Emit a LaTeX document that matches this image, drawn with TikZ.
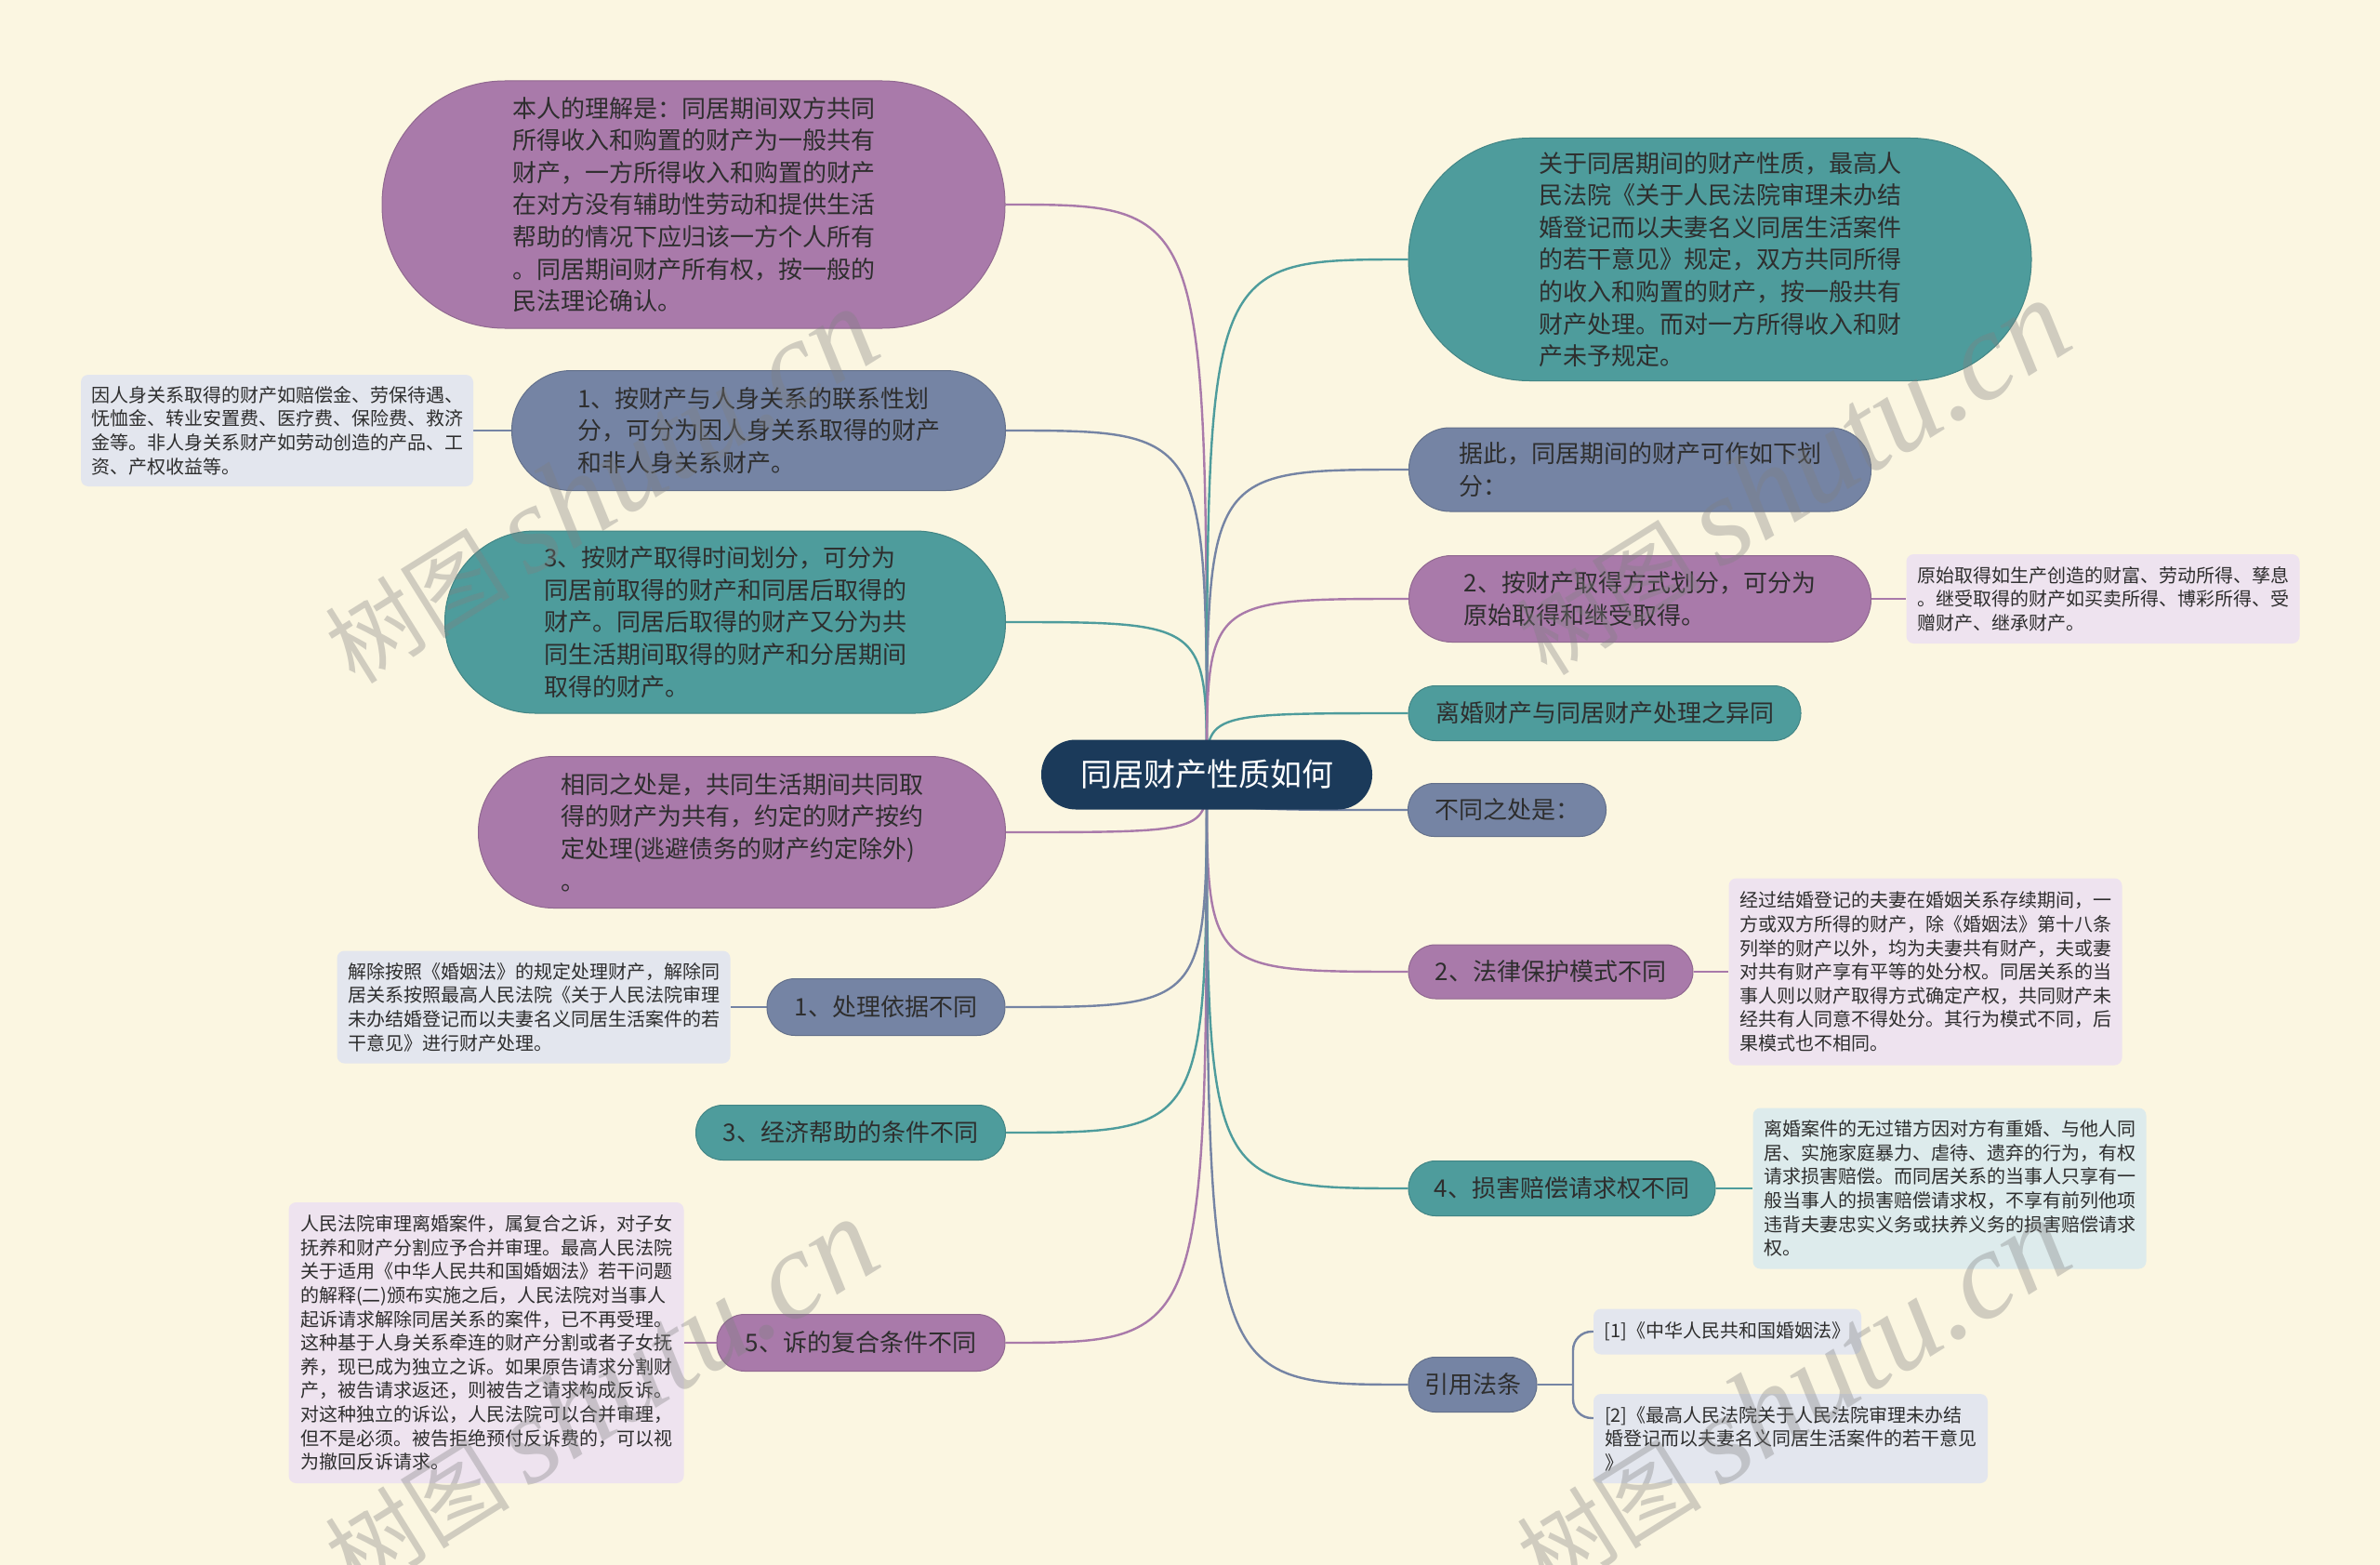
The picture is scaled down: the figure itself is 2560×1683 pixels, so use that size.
\documentclass[tikz,border=0pt]{standalone}
\usepackage{fontspec}
\setmainfont{Noto Sans CJK SC}
\newfontfamily\wmlatin{Liberation Serif}
\usepackage{tikz}
\usetikzlibrary{backgrounds}

\definecolor{pagebg}{HTML}{FBF6E1}
\definecolor{rootfill}{HTML}{1B3A5A}
\definecolor{purplefill}{HTML}{A97AAA}
\definecolor{slatefill}{HTML}{7584A4}
\definecolor{tealfill}{HTML}{4E9C9C}
\definecolor{notegrey}{HTML}{E3E6EE}
\definecolor{notepurple}{HTML}{EEE3EF}
\definecolor{noteteal}{HTML}{DDEBEC}
\definecolor{textdark}{HTML}{2E2E2E}

\newcommand\setfs[2]{\fontsize{#1}{#2}\selectfont}

\tikzset{
  topic/.style={inner sep=0pt, align=left, text=textdark, font=\setfs{26}{34.6}, line width=1pt},
  purpletopic/.style={topic, fill=purplefill, draw=purplefill!85!black},
  slatetopic/.style={topic, fill=slatefill, draw=slatefill!85!black},
  tealtopic/.style={topic, fill=tealfill, draw=tealfill!85!black},
  note/.style={inner sep=0pt, align=left, text=textdark, font=\setfs{20}{25.6}, rounded corners=8pt},
  rootnode/.style={inner sep=0pt, fill=rootfill, text=white, font=\setfs{34}{40},
    minimum width=356pt, minimum height=75pt, rounded corners=37pt},
  link/.style={line width=2.4pt},
  watermark/.style={text=gray, text opacity=0.35, inner sep=0pt}
}

\begin{document}
\begin{tikzpicture}[x=1pt,y=-1pt]
        \useasboundingbox (0,0) rectangle (2560,1683);
        % centre
        \node[rootnode] (root) at (1298,833) {同居财产性质如何};
        % left side
        \node[purpletopic, minimum width=670pt, minimum height=266pt, rounded corners=132pt] (understand) at (746,220)
          {本人的理解是：同居期间双方共同\\所得收入和购置的财产为一般共有\\财产，一方所得收入和购置的财产\\在对方没有辅助性劳动和提供生活\\帮助的情况下应归该一方个人所有\\。同居期间财产所有权，按一般的\\民法理论确认。};
        \node[slatetopic, minimum width=531pt, minimum height=129pt, rounded corners=64pt] (byrelation) at (816,463)
          {1、按财产与人身关系的联系性划\\分，可分为因人身关系取得的财产\\和非人身关系财产。};
        \node[note, fill=notegrey, minimum width=422pt, minimum height=120pt] (byrelationnote) at (298,463)
          {因人身关系取得的财产如赔偿金、劳保待遇、\\怃恤金、转业安置费、医疗费、保险费、救济\\金等。非人身关系财产如劳动创造的产品、工\\资、产权收益等。};
        \node[tealtopic, minimum width=603pt, minimum height=196pt, rounded corners=97pt] (bytime) at (780,669)
          {3、按财产取得时间划分，可分为\\同居前取得的财产和同居后取得的\\财产。同居后取得的财产又分为共\\同生活期间取得的财产和分居期间\\取得的财产。};
        \node[purpletopic, minimum width=567pt, minimum height=163pt, rounded corners=81pt] (same) at (798,895)
          {相同之处是，共同生活期间共同取\\得的财产为共有，约定的财产按约\\定处理(逃避债务的财产约定除外)\\。};
        \node[slatetopic, minimum width=256pt, minimum height=61pt, rounded corners=30pt] (basis) at (953,1083)
          {1、处理依据不同};
        \node[note, fill=notegrey, minimum width=423pt, minimum height=121pt] (basisnote) at (574,1083)
          {解除按照《婚姻法》的规定处理财产，解除同\\居关系按照最高人民法院《关于人民法院审理\\未办结婚登记而以夫妻名义同居生活案件的若\\干意见》进行财产处理。};
        \node[tealtopic, minimum width=333pt, minimum height=59pt, rounded corners=29pt] (support) at (915,1218)
          {3、经济帮助的条件不同};
        \node[purpletopic, minimum width=310pt, minimum height=61pt, rounded corners=30pt] (joinder) at (926,1444)
          {5、诉的复合条件不同};
        \node[note, fill=notepurple, minimum width=425pt, minimum height=302pt] (joindernote) at (523,1444)
          {人民法院审理离婚案件，属复合之诉，对子女\\抚养和财产分割应予合并审理。最高人民法院\\关于适用《中华人民共和国婚姻法》若干问题\\的解释(二)颁布实施之后，人民法院对当事人\\起诉请求解除同居关系的案件，已不再受理。\\这种基于人身关系牵连的财产分割或者子女抚\\养，现已成为独立之诉。如果原告请求分割财\\产，被告请求返还，则被告之请求构成反诉。\\对这种独立的诉讼，人民法院可以合并审理，\\但不是必须。被告拒绝预付反诉费的，可以视\\为撤回反诉请求。};
        % right side
        \node[tealtopic, minimum width=670pt, minimum height=261pt, rounded corners=130pt] (court) at (1850,279)
          {关于同居期间的财产性质，最高人\\民法院《关于人民法院审理未办结\\婚登记而以夫妻名义同居生活案件\\的若干意见》规定，双方共同所得\\的收入和购置的财产，按一般共有\\财产处理。而对一方所得收入和财\\产未予规定。};
        \node[slatetopic, minimum width=497pt, minimum height=90pt, rounded corners=44pt] (hence) at (1764,505)
          {据此，同居期间的财产可作如下划\\分：};
        \node[purpletopic, minimum width=497pt, minimum height=93pt, rounded corners=46pt] (bymode) at (1764,644)
          {2、按财产取得方式划分，可分为\\原始取得和继受取得。};
        \node[note, fill=notepurple, minimum width=423pt, minimum height=96pt] (bymodenote) at (2262,644)
          {原始取得如生产创造的财富、劳动所得、孳息\\。继受取得的财产如买卖所得、博彩所得、受\\赠财产、继承财产。};
        \node[tealtopic, minimum width=422pt, minimum height=59pt, rounded corners=29pt] (compare) at (1726,767)
          {离婚财产与同居财产处理之异同};
        \node[slatetopic, minimum width=213pt, minimum height=57pt, rounded corners=28pt] (differ) at (1621,871)
          {不同之处是：};
        \node[purpletopic, minimum width=306pt, minimum height=58pt, rounded corners=29pt] (protect) at (1668,1045)
          {2、法律保护模式不同};
        \node[note, fill=notepurple, minimum width=423pt, minimum height=201pt] (protectnote) at (2071,1045)
          {经过结婚登记的夫妻在婚姻关系存续期间，一\\方或双方所得的财产，除《婚姻法》第十八条\\列举的财产以外，均为夫妻共有财产，夫或妻\\对共有财产享有平等的处分权。同居关系的当\\事人则以财产取得方式确定产权，共同财产未\\经共有人同意不得处分。其行为模式不同，后\\果模式也不相同。};
        \node[tealtopic, minimum width=330pt, minimum height=59pt, rounded corners=29pt] (damages) at (1680,1278)
          {4、损害赔偿请求权不同};
        \node[note, fill=noteteal, minimum width=423pt, minimum height=173pt] (damagesnote) at (2097,1278)
          {离婚案件的无过错方因对方有重婚、与他人同\\居、实施家庭暴力、虐待、遗弃的行为，有权\\请求损害赔偿。而同居关系的当事人只享有一\\般当事人的损害赔偿请求权，不享有前列他项\\违背夫妻忠实义务或扶养义务的损害赔偿请求\\权。};
        \node[slatetopic, minimum width=138pt, minimum height=59pt, rounded corners=29pt] (laws) at (1584,1489)
          {引用法条};
        \node[note, fill=notegrey, minimum width=288pt, minimum height=49pt] (lawone) at (1858,1432)
          {[1]《中华人民共和国婚姻法》};
        \node[note, fill=notegrey, minimum width=424pt, minimum height=96pt] (lawtwo) at (1926,1547)
          {[2]《最高人民法院关于人民法院审理未办结\\婚登记而以夫妻名义同居生活案件的若干意见\\》};
        \coordinate (lawfork) at (1692,1489);

        \begin{scope}[on background layer]
        \fill[pagebg] (0,0) rectangle (2560,1683);
        % branches from the centre
        \foreach \n/\c in {understand/purplefill, byrelation/slatefill, bytime/tealfill, same/purplefill,
                           basis/slatefill, support/tealfill, joinder/purplefill}
          \draw[link, draw=\c] (root.center) .. controls (root.center |- \n.east) .. (\n.east);
        \foreach \n/\c in {court/tealfill, hence/slatefill, bymode/purplefill, compare/tealfill,
                           differ/slatefill, protect/purplefill, damages/tealfill, laws/slatefill}
          \draw[link, draw=\c] (root.center) .. controls (root.center |- \n.west) .. (\n.west);
        % notes
        \draw[link, draw=slatefill] (byrelation.west) -- (byrelationnote.east);
        \draw[link, draw=slatefill] (basis.west) -- (basisnote.east);
        \draw[link, draw=purplefill] (joinder.west) -- (joindernote.east);
        \draw[link, draw=purplefill] (bymode.east) -- (bymodenote.west);
        \draw[link, draw=purplefill] (protect.east) -- (protectnote.west);
        \draw[link, draw=tealfill] (damages.east) -- (damagesnote.west);
        \draw[link, draw=slatefill] (laws.east) -- (lawfork);
        \draw[link, draw=slatefill, rounded corners=20pt] (lawfork) |- (lawone.west);
        \draw[link, draw=slatefill, rounded corners=20pt] (lawfork) |- ([yshift=22pt]lawtwo.west);
        \end{scope}

        % watermark
        \foreach \x/\y [count=\i] in {645/523, 1927/514, 645/1502, 1927/1502}
          \node[watermark, rotate=32] (mark\i) at (\x,\y)
            {\fontsize{100}{110}\selectfont 树图\hspace{20pt}{\wmlatin\itshape\fontsize{135}{140}\selectfont shutu.cn}};
\end{tikzpicture}
\end{document}
